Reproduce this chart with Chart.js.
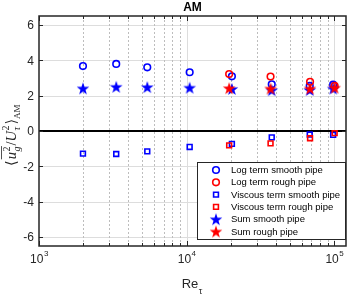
<!DOCTYPE html>
<html>
<head>
<meta charset="utf-8">
<script src="https://cdn.jsdelivr.net/npm/chart.js@4"></script>
<style>
html,body{margin:0;padding:0;background:#fff;}
canvas{display:block;}
</style>
</head>
<body>
<canvas id="c" width="354" height="296"></canvas>
<script>
// ---- data ----
const reSmooth   = [1985, 3334, 5411, 10480, 20250, 37690, 68160, 98190];
const logSmooth  = [3.67, 3.79, 3.60, 3.32, 3.09, 2.64, 2.55, 2.62];
const viscSmooth = [-1.28, -1.30, -1.15, -0.90, -0.73, -0.36, -0.20, -0.22];
const sumSmooth  = [2.41, 2.50, 2.48, 2.45, 2.38, 2.31, 2.32, 2.40];
const reRough    = [19400, 37000, 68500, 100500];
const logRough   = [3.22, 3.08, 2.78, 2.55];
const viscRough  = [-0.81, -0.70, -0.41, -0.12];
const sumRough   = [2.42, 2.40, 2.40, 2.45];
const zeroLineX  = [1000, 120000];
const zeroLineY  = [0, 0];
const seriesNames = ['Log term smooth pipe','Log term rough pipe','Viscous term smooth pipe','Viscous term rough pipe','Sum smooth pipe','Sum rough pipe'];
const yTicks = [-6, -4, -2, 0, 2, 4, 6];
const xMajor = [1000, 10000, 100000];
const xMajorExp = ['3', '4', '5'];
const xLimits = [1000, 120000];
const yLimits = [-6.5, 6.5];
const titleText = 'AM';

const BLUE = '#0000ff', RED = '#ff0000';

function starCanvas(color){
  const s = 14, c = document.createElement('canvas');
  c.width = s; c.height = s;
  const g = c.getContext('2d');
  const cx = s/2, cy = s/2 + 0.6, R = 6.6, r = 2.6;
  g.beginPath();
  for (let i = 0; i < 10; i++){
    const a = -Math.PI/2 + i*Math.PI/5;
    const rr = i % 2 ? r : R;
    g.lineTo(cx + rr*Math.cos(a), cy + rr*Math.sin(a));
  }
  g.closePath();
  g.fillStyle = color; g.fill();
  return c;
}
const starB = starCanvas(BLUE), starR = starCanvas(RED);

const pts = (xs, ys) => xs.map((x, i) => ({x, y: ys[i]}));

const datasets = [
  {label: seriesNames[0], data: pts(reSmooth, logSmooth), pointStyle:'circle', pointRadius:3.3, borderColor:BLUE, backgroundColor:'rgba(0,0,0,0)', pointBorderWidth:1.6, showLine:false, order:6},
  {label: seriesNames[1], data: pts(reRough, logRough), pointStyle:'circle', pointRadius:3.3, borderColor:RED, backgroundColor:'rgba(0,0,0,0)', pointBorderWidth:1.6, showLine:false, order:5},
  {label: seriesNames[2], data: pts(reSmooth, viscSmooth), pointStyle:'rect', pointRadius:3.4, borderColor:BLUE, backgroundColor:'rgba(0,0,0,0)', pointBorderWidth:1.6, showLine:false, order:4},
  {label: seriesNames[3], data: pts(reRough, viscRough), pointStyle:'rect', pointRadius:3.4, borderColor:RED, backgroundColor:'rgba(0,0,0,0)', pointBorderWidth:1.6, showLine:false, order:3},
  {label: seriesNames[4], data: pts(reSmooth, sumSmooth), pointStyle:starB, pointRadius:7, borderColor:BLUE, backgroundColor:BLUE, showLine:false, order:2},
  {label: seriesNames[5], data: pts(reRough, sumRough), pointStyle:starR, pointRadius:7, borderColor:RED, backgroundColor:RED, showLine:false, order:1},
  {label: 'zero', data: pts(zeroLineX, zeroLineY), showLine:true, borderColor:'#000', borderWidth:2, pointRadius:0, order:7}
];

const TXT = '#262626';
const SANS = '"Liberation Sans", Arial, Helvetica, sans-serif';
const SERIF = '"Liberation Serif", "DejaVu Serif", serif';

const decor = {
  id: 'decor',
  beforeDatasetsDraw(chart){
    const {ctx, chartArea: a, scales: {x, y}} = chart;
    ctx.save();
    ctx.fillStyle = '#fff';
    ctx.fillRect(a.left, a.top, a.right - a.left, a.bottom - a.top);
    ctx.strokeStyle = '#dddddd'; ctx.lineWidth = 1;
    yTicks.forEach(v => {
      const py = Math.round(y.getPixelForValue(v)) + 0.5;
      ctx.beginPath(); ctx.moveTo(a.left, py); ctx.lineTo(a.right, py); ctx.stroke();
    });
    xMajor.forEach(v => {
      if (v <= xLimits[0]) return;
      const px = Math.round(x.getPixelForValue(v)) + 0.5;
      ctx.beginPath(); ctx.moveTo(px, a.top); ctx.lineTo(px, a.bottom); ctx.stroke();
    });
    ctx.strokeStyle = '#bdbdbd'; ctx.setLineDash([2, 2]);
    xMajor.forEach(d => {
      for (let k = 2; k <= 9; k++){
        const v = d*k; if (v >= xLimits[1]) continue;
        const px = Math.round(x.getPixelForValue(v)) + 0.5;
        ctx.beginPath(); ctx.moveTo(px, a.top); ctx.lineTo(px, a.bottom); ctx.stroke();
      }
    });
    ctx.restore();
  },
  afterDraw(chart){
    const {ctx, chartArea: a, scales: {x, y}} = chart;
    ctx.save();
    ctx.strokeStyle = TXT; ctx.lineWidth = 1;
    yTicks.forEach(v => {
      const py = Math.round(y.getPixelForValue(v)) + 0.5;
      ctx.beginPath(); ctx.moveTo(a.left, py); ctx.lineTo(a.left + 4, py);
      ctx.moveTo(a.right, py); ctx.lineTo(a.right - 4, py); ctx.stroke();
    });
    xMajor.forEach(d => {
      for (let k = 1; k <= 9; k++){
        const v = d*k; if (v > xLimits[1]) continue;
        const len = k === 1 ? 5 : 3;
        const px = Math.round(x.getPixelForValue(v)) + 0.5;
        ctx.beginPath(); ctx.moveTo(px, a.bottom); ctx.lineTo(px, a.bottom - len);
        ctx.moveTo(px, a.top); ctx.lineTo(px, a.top + len); ctx.stroke();
      }
    });
    ctx.lineWidth = 1.5; ctx.strokeStyle = TXT;
    ctx.strokeRect(a.left, a.top, a.right - a.left, a.bottom - a.top);
    ctx.fillStyle = TXT; ctx.font = '12px ' + SANS;
    ctx.textAlign = 'right'; ctx.textBaseline = 'middle';
    yTicks.forEach(v => ctx.fillText(String(v), a.left - 5, y.getPixelForValue(v) + 1));
    ctx.textBaseline = 'alphabetic'; ctx.textAlign = 'left';
    xMajor.forEach((v, i) => {
      ctx.font = '12px ' + SANS; const w1 = ctx.measureText('10').width;
      ctx.font = '8px ' + SANS; const w2 = ctx.measureText(xMajorExp[i]).width;
      const px = x.getPixelForValue(v) - (w1 + w2)/2;
      ctx.font = '12px ' + SANS; ctx.fillText('10', px, 263);
      ctx.font = '8px ' + SANS; ctx.fillText(xMajorExp[i], px + w1 + 0.5, 256);
    });
    ctx.font = 'bold 12px ' + SANS; ctx.textAlign = 'center';
    ctx.fillStyle = '#000';
    ctx.fillText(titleText, (a.left + a.right)/2, 11);
    ctx.fillStyle = TXT;
    ctx.font = '13px ' + SANS; ctx.textAlign = 'left';
    const wRe = ctx.measureText('Re').width;
    const cx0 = (a.left + a.right)/2 - (wRe + 5)/2;
    ctx.fillText('Re', cx0, 288);
    ctx.font = '9px ' + SANS; ctx.fillText('τ', cx0 + wRe + 0.5, 294);
    // y label (rotated)
    ctx.save();
    ctx.translate(16, 166); ctx.rotate(-Math.PI/2);
    ctx.fillStyle = TXT; ctx.textAlign = 'left'; ctx.textBaseline = 'alphabetic';
    let cx = 0;
    const put = (t, font, dy) => { ctx.font = font; ctx.fillText(t, cx, dy); return ctx.measureText(t).width; };
    const M = '14.5px ' + SERIF, MI = 'italic 14.5px ' + SERIF, S = '10px ' + SERIF, SI = 'italic 10px ' + SERIF;
    cx += put('⟨', M, 0) + 1;
    const ox = cx;
    cx += put('u', MI, 0) + 0.5;
    let sx = cx;
    const wa = put('2', S, -6.5); cx = sx;
    const wb = put('g', SI, 3.5);
    cx = sx + Math.max(wa, wb) + 1;
    ctx.strokeStyle = TXT; ctx.lineWidth = 0.8;
    ctx.beginPath(); ctx.moveTo(ox, -14.5); ctx.lineTo(cx - 0.5, -14.5); ctx.stroke();
    cx += put('/', M, 0);
    cx += put('U', MI, 0) + 0.5;
    sx = cx;
    const wc = put('2', S, -7.5); cx = sx;
    const wd = put('τ', SI, 3.5);
    cx = sx + Math.max(wc, wd) + 1;
    cx += put('⟩', M, 0);
    put('AM', '9px ' + SERIF, 3.5);
    ctx.restore();
    // legend
    const L = {left: 197, top: 162, right: 345, bottom: 239};
    ctx.fillStyle = '#fff';
    ctx.fillRect(L.left, L.top, L.right - L.left, L.bottom - L.top);
    ctx.strokeStyle = TXT; ctx.lineWidth = 1;
    ctx.strokeRect(L.left + 0.5, L.top + 0.5, L.right - L.left, L.bottom - L.top);
    ctx.font = '9.5px ' + SANS; ctx.textAlign = 'left'; ctx.textBaseline = 'middle';
    for (let i = 0; i < 6; i++){
      const ds = chart.data.datasets[i];
      const ry = 170 + i*12.3;
      ctx.strokeStyle = ds.borderColor; ctx.fillStyle = ds.backgroundColor;
      ctx.lineWidth = ds.pointBorderWidth || 1;
      Chart.helpers.drawPoint(ctx, {pointStyle: ds.pointStyle, radius: ds.pointRadius, borderWidth: ds.pointBorderWidth || 1, rotation: 0}, 216, ry);
      ctx.fillStyle = '#000';
      ctx.fillText(ds.label, 231, ry + 0.5);
    }
    ctx.restore();
  }
};

new Chart(document.getElementById('c'), {
  type: 'scatter',
  data: {datasets},
  options: {
    responsive: false,
    animation: false,
    devicePixelRatio: 1,
    layout: {padding: {left: 39, top: 16, right: 3, bottom: 50}},
    plugins: {legend: {display: false}, tooltip: {enabled: false}},
    scales: {
      x: {type: 'logarithmic', min: xLimits[0], max: xLimits[1], display: false},
      y: {type: 'linear', min: yLimits[0], max: yLimits[1], display: false}
    }
  },
  plugins: [decor]
});
</script>
</body>
</html>
